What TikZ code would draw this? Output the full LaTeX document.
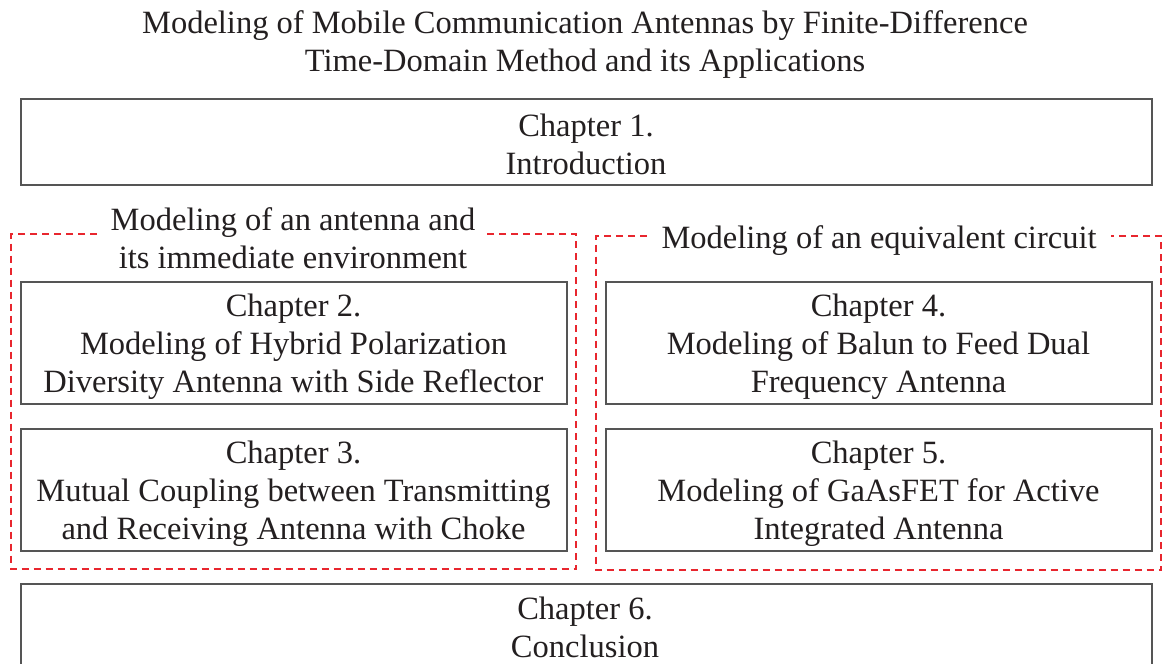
\documentclass[tikz,border=0pt]{standalone}
\usepackage{fontspec}
\setmainfont{Liberation Serif}
\definecolor{frame}{HTML}{555555}
\definecolor{grp}{HTML}{E8262E}
\definecolor{txt}{HTML}{231F20}
\begin{document}
\begin{tikzpicture}[x=1pt,y=-1pt,
  every node/.style={text=txt,font=\fontsize{32.5}{38}\selectfont,inner sep=0pt,align=center},
  chap/.style={draw=frame,line width=2pt,anchor=north west},
  grpline/.style={draw=grp,line width=2pt,dash pattern=on 7pt off 5pt}]
\useasboundingbox (0,0) rectangle (1163,664);
\node (title) at (585,45) {Modeling of Mobile Communication Antennas by Finite-Difference\\Time-Domain Method and its Applications};
\node[chap,minimum width=1131pt,minimum height=86pt] (c1) at (19.5,98) {};
\node at ([yshift=-2pt]c1.center) {Chapter 1.\\Introduction};
% left group
\node (lg) at (293,238) {Modeling of an antenna and\\its immediate environment};
\coordinate (la) at (97,233.5);
\coordinate (lb) at (487,233.5);
\draw[grpline] (la) -- (11,233.5) -- (11,569) -- (576,569) -- (576,233.5) -- (lb);
\node[chap,minimum width=546pt,minimum height=122pt] (c2) at (19.5,281) {};
\node at ([yshift=-4pt]c2.center) {Chapter 2.\\Modeling of Hybrid Polarization\\Diversity Antenna with Side Reflector};
\node[chap,minimum width=546pt,minimum height=122pt] (c3) at (19.5,427.5) {};
\node at ([yshift=-4pt]c3.center) {Chapter 3.\\Mutual Coupling between Transmitting\\and Receiving Antenna with Choke};
% right group
\node (rg) at (879,241) {Modeling of an equivalent circuit};
\coordinate (ra) at (647,235.5);
\coordinate (rb) at (1111,235.5);
\draw[grpline] (ra) -- (596,235.5) -- (596,570) -- (1161,570) -- (1161,235.5) -- (rb);
\node[chap,minimum width=546pt,minimum height=122pt] (c4) at (604.5,281) {};
\node at ([yshift=-4pt]c4.center) {Chapter 4.\\Modeling of Balun to Feed Dual\\Frequency Antenna};
\node[chap,minimum width=546pt,minimum height=122pt] (c5) at (604.5,427.5) {};
\node at ([yshift=-4pt]c5.center) {Chapter 5.\\Modeling of GaAsFET for Active\\Integrated Antenna};
% chapter 6
\node[chap,minimum width=1131pt,minimum height=100pt] (c6) at (19.5,583) {};
\node at (585,627) {Chapter 6.\\Conclusion};
\end{tikzpicture}
\end{document}
